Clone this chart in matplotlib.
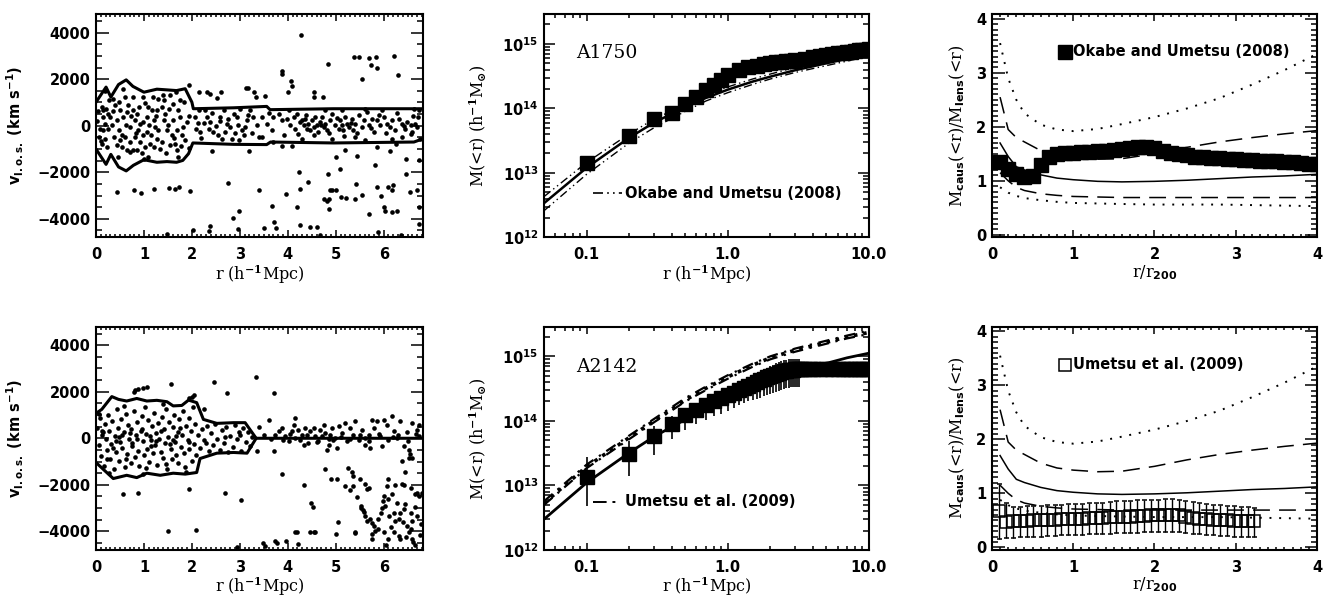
import matplotlib.pyplot as plt
import numpy as np
from matplotlib.ticker import MultipleLocator, FixedLocator, FixedFormatter, LogLocator, NullFormatter

# ---------------- A1750: redshift-space diagram (r [h^-1 Mpc], v_los [km/s])
a1750_members = [
    (0.19, 1510), (0.12, 800), (0.21, 730), (0.15, 660), (0.26, 510), (0.14, 370), (0.19, 90), (0.08, -130),
    (0.15, -200), (0.26, -130), (0.07, -490), (0.19, -560), (0.12, -770), (0.33, 10), (0.28, 1110), (0.36, 1160),
    (0.47, 1010), (0.57, 1590), (0.51, 660), (0.57, 370), (0.64, 590), (0.43, 230), (0.49, -200), (0.54, -410),
    (0.61, -490), (0.64, -1060), (0.70, -1130), (0.71, -700), (0.43, -840), (0.50, -630), (0.63, 10), (0.67, 870),
    (0.77, 1230), (0.78, 660), (0.85, 510), (0.90, 800), (0.81, 230), (0.92, 90), (0.99, 160), (0.88, -200),
    (0.81, -490), (0.92, -700), (0.85, -1060), (0.78, -1060), (1.02, -910), (1.09, 800), (1.16, 660), (1.06, 370),
    (1.11, 10), (1.20, 230), (1.23, -60), (1.06, -270), (1.14, -410), (1.27, -560), (1.20, -910), (1.09, -1340),
    (1.30, 1160), (1.18, 1230), (0.99, 1230), (1.37, 800), (1.44, 510), (1.41, 230), (1.51, 10), (1.48, -200),
    (1.58, -410), (1.37, -700), (1.54, -840), (1.65, -770), (1.68, -1060), (1.72, -1340), (1.61, 940), (1.70, 660),
    (1.75, 370), (1.60, 230), (1.68, -200), (1.79, -410), (1.82, -60), (1.89, 160), (1.86, -630), (1.54, 1300),
    (1.67, 1440), (1.75, 1090), (1.42, 1090), (1.27, 660), (1.30, -200), (0.97, -410), (0.71, -60), (0.29, 370),
    (0.38, -490), (0.05, 620), (0.10, -640), (0.22, -920), (0.35, 640), (0.40, 880), (0.55, -900), (0.60, 1250),
    (0.73, 420), (0.83, -320), (0.95, -1150), (1.03, 980), (1.13, -780), (1.25, 410), (1.33, -1020), (1.46, -1150),
    (1.52, 720), (1.62, -520), (1.77, -880), (1.84, 1020), (1.93, -950), (1.95, 420), (0.03, 200), (0.45, -1350),
    (1.00, -1450), (1.40, 1320),
    (2.07, 370), (2.14, 660), (2.09, -130), (2.17, -270), (2.28, 660), (2.31, 370), (2.38, 160), (2.35, -130),
    (2.45, -270), (2.55, -410), (2.59, 370), (2.66, 660), (2.73, 90), (2.80, -60), (2.87, 510), (2.94, 370),
    (2.97, 10), (3.04, -200), (3.15, 230), (3.22, 660), (3.28, 370), (3.35, 10), (3.39, -490), (2.62, -560),
    (2.83, -560), (3.08, -410), (2.20, -520), (2.25, 120), (2.42, 540), (2.50, -30), (2.69, -250), (2.76, 280),
    (2.90, -320), (3.00, 720), (3.11, -60), (3.18, 480), (3.25, -300), (2.12, 100), (2.58, 200), (2.98, -620),
    (3.46, 370), (3.56, 90), (3.46, -490), (3.70, 370), (3.67, -200), (3.81, 510), (3.88, 230), (3.98, 300),
    (4.05, 10), (4.12, 370), (4.16, -130), (4.22, -340), (4.29, 230), (4.33, 10), (4.36, 300), (4.40, -130),
    (4.43, 90), (4.47, -200), (4.50, 230), (4.54, -60), (4.57, 370), (4.61, 10), (4.64, -270), (4.68, 160),
    (4.71, 370), (4.75, -60), (4.78, 90), (4.82, -200), (4.89, 230), (4.92, 510), (4.99, 10), (5.06, -130),
    (5.09, 230), (5.13, 10), (5.16, -200), (5.20, 370), (5.23, 90), (5.27, -60), (5.34, 300), (5.37, -200),
    (5.41, 90), (5.48, 440), (5.55, -60), (5.58, 230), (5.65, 590), (5.69, 10), (5.76, 300), (5.79, -270),
    (5.86, 230), (5.93, 10), (6.00, 370), (6.07, 90), (6.14, -60), (6.17, 230), (6.24, -200), (6.31, 300),
    (6.38, 90), (6.45, -130), (6.49, 160), (6.56, 10), (6.59, -270), (6.66, 90), (6.70, -60), (6.73, 660),
    (6.72, 370), (6.76, -560), (4.02, 660), (4.78, 660), (5.13, 660), (5.62, 730), (5.97, 660), (6.63, 730),
    (3.70, -700), (4.29, -560), (4.92, -560), (5.62, -630), (5.41, -490), (6.17, -560), (6.38, -490), (6.56, -340),
    (4.26, 180), (4.38, 450), (4.55, -400), (4.70, 40), (4.86, -330), (5.02, 320), (5.18, -420), (5.31, 120),
    (5.45, -330), (5.74, -110), (5.90, 480), (6.05, -300), (6.28, 560), (6.42, -20), (6.62, 410), (3.60, 560),
    (3.92, -380), (4.19, 520),
]
a1750_outliers = [
    (4.28, 3910), (3.88, 2370), (3.88, 2230), (4.07, 1940), (4.09, 1710), (4.00, 1440), (4.84, 2660), (5.39, 2970),
    (5.49, 2970), (5.54, 2000), (5.70, 2890), (5.83, 2940), (5.74, 2630), (5.87, 2460), (6.22, 3000), (6.30, 2170),
    (4.54, 1460), (4.55, 1230), (4.73, 1230), (3.34, 1230), (3.12, 1630), (3.17, 1600), (3.29, 1460), (1.93, 1770),
    (2.15, 1430), (2.32, 1460), (2.37, 1370), (2.53, 1170), (2.61, 1430), (3.52, 1280),
    (0.44, -2830), (0.80, -2770), (0.93, -2890), (1.21, -2730), (1.53, -2690), (1.64, -2730), (1.74, -2640),
    (1.96, -2790), (2.76, -2460), (2.85, -3970), (2.98, -3660), (2.37, -4300), (2.36, -4510), (2.02, -4490),
    (2.96, -4430), (1.48, -4670), (3.39, -2770), (3.68, -3460), (3.72, -4140), (3.76, -4390), (3.51, -4400),
    (3.19, -1090), (2.42, -1070), (3.88, -890), (4.08, -890), (3.97, -2930), (4.20, -3510), (4.26, -2730),
    (4.23, -2000), (4.26, -4270), (4.46, -4360), (4.61, -4340), (4.43, -2410), (4.68, -4710), (5.00, -1340),
    (5.19, -1060), (5.44, -1300), (4.83, -2060), (5.08, -1870), (4.76, -3130), (4.81, -3230), (4.85, -3130),
    (4.85, -3570), (4.88, -2770), (4.93, -2760), (5.00, -2740), (5.11, -3040), (5.22, -3100), (5.40, -3140),
    (5.42, -2490), (5.55, -2990), (5.70, -3770), (5.82, -1700), (5.87, -2630), (5.94, -3010), (6.00, -3470),
    (6.03, -3670), (6.09, -2630), (6.19, -2540), (6.18, -2740), (6.18, -3710), (6.28, -3660), (5.89, -4570),
    (5.87, -910), (6.14, -1090), (6.25, -800), (6.46, -1440), (6.47, -2090), (6.55, -2840), (6.69, -2770),
    (6.74, -3470), (6.73, -4230), (6.73, -1490), (6.36, -4700),
]
a1750_caus_r_up = [0.0, 0.21, 0.31, 0.47, 0.63, 0.77, 1.0, 1.27, 1.48, 1.68, 1.86, 2.0, 2.03, 2.87, 3.56, 3.63, 4.95, 6.82]
a1750_caus_v_up = [1010, 1660, 1230, 1770, 1970, 1690, 1440, 1570, 1540, 1510, 1590, 1010, 730, 770, 830, 690, 730, 730]
a1750_caus_r_lo = [0.0, 0.21, 0.31, 0.47, 0.63, 0.78, 1.0, 1.27, 1.48, 1.68, 1.81, 1.93, 2.02, 2.87, 3.56, 3.64, 4.95, 6.63, 6.82]
a1750_caus_v_lo = [-1000, -1660, -1230, -1770, -1940, -1700, -1460, -1570, -1540, -1570, -1490, -1200, -740, -800, -810, -700, -740, -700, -560]

# ---------------- A2142: redshift-space diagram
a2142_members = [
    (0.03, 420), (0.06, -310), (0.09, 880), (0.11, -760), (0.13, 150), (0.16, -1180), (0.18, 610), (0.21, -40),
    (0.23, -520), (0.25, 1020), (0.27, 310), (0.30, -890), (0.32, -230), (0.34, 740), (0.37, -1320), (0.39, 90),
    (0.41, -610), (0.44, 1240), (0.46, 450), (0.48, -980), (0.51, -150), (0.53, 830), (0.55, -420), (0.58, 260),
    (0.60, -1250), (0.62, 1040), (0.65, -690), (0.67, 560), (0.69, -30), (0.72, -1080), (0.74, 380), (0.76, -340),
    (0.79, 1180), (0.81, -820), (0.83, 120), (0.86, 690), (0.88, -560), (0.90, -1200), (0.93, 320), (0.95, 960),
    (0.97, -120), (1.00, -720), (1.02, 1350), (1.04, 200), (1.07, -460), (1.09, 780), (1.11, -1020), (1.14, -80),
    (1.16, 510), (1.18, -640), (1.21, 1090), (1.23, -310), (1.25, 240), (1.28, -1150), (1.30, 650), (1.32, -20),
    (1.35, -580), (1.37, 920), (1.39, -860), (1.42, 380), (1.44, -210), (1.46, 1260), (1.49, -1300), (1.51, 60),
    (1.53, 700), (1.56, -480), (1.58, -900), (1.60, 470), (1.63, 1010), (1.65, -140), (1.67, -700), (1.70, 260),
    (1.72, -1080), (1.74, 840), (1.77, -380), (1.79, 130), (1.81, 1180), (1.84, -620), (1.86, -1240), (1.88, 540),
    (1.91, -60), (1.93, 880), (1.95, -450), (1.98, 320), (2.00, -960), (2.02, 1350), (2.05, -250), (2.07, 610),
    (2.09, -700), (2.12, 150), (2.16, -420), (2.21, 380), (2.26, -90), (2.31, 520), (2.35, -560), (2.40, 210),
    (2.44, -300), (2.49, 600), (2.53, -20), (2.58, -520), (2.62, 340), (2.67, -210), (2.71, 480), (2.76, -600),
    (2.80, 100), (2.85, -380), (2.89, 560), (2.94, -40), (2.98, 280), (3.03, -540), (3.07, 430), (3.12, -160),
    (3.16, 250), (3.21, -330), (3.25, 60), (0.15, 250), (0.35, -420), (0.55, 150), (0.75, -200), (0.95, 400),
    (1.15, -350), (1.35, 300), (1.55, -250), (1.75, 450), (1.95, -150), (0.42, -100), (0.85, -50), (1.26, -100),
    (1.66, 80), (0.22, -880), (0.63, -880), (1.05, -1280), (1.47, -1100), (0.07, 1050), (0.28, -1500),
    (0.58, 1400), (0.98, -1520), (1.40, 1480), (1.87, -1450), (0.12, 330), (0.47, 70), (0.70, 240), (1.12, 90),
    (1.60, -60), (2.30, -200), (2.70, 40), (3.00, 120),
    (3.60, 800), (3.74, 160), (3.81, 300), (3.88, 440), (3.95, 90), (4.09, 300), (4.12, 590), (4.16, 870),
    (4.22, 370), (4.29, 160), (4.36, 440), (4.43, -200), (4.47, 300), (4.54, 440), (4.57, 90), (4.64, -130),
    (4.68, 370), (4.75, 590), (4.78, 230), (4.85, -270), (4.89, 160), (4.92, 440), (4.99, 10), (5.03, -410),
    (5.06, 510), (5.13, 230), (5.20, 660), (5.23, -130), (5.30, 440), (5.37, 160), (5.41, 730), (5.48, -60),
    (5.55, 370), (5.62, -270), (5.69, 160), (5.76, 800), (5.79, 440), (5.86, 730), (5.93, 90), (6.00, 800),
    (6.07, 590), (6.17, 940), (6.21, 300), (6.28, 10), (6.35, 730), (6.42, -340), (6.59, 660), (6.70, 370),
    (6.73, 590), (6.73, 90), (3.72, -560), (3.35, -560), (4.02, -130), (4.33, -270), (4.82, -490), (5.72, -410),
    (5.96, -340), (6.52, -490), (6.38, -990), (6.59, -840), (3.50, 150), (3.90, -80), (4.05, 200), (4.25, -60),
    (4.40, 120), (4.60, -150), (4.72, 80), (4.95, -90), (5.10, 60), (5.30, -40), (5.50, 140), (5.70, -120),
    (5.90, 180), (6.10, -60), (6.30, 130), (6.50, -100), (6.68, 200), (4.15, 30), (4.85, -10), (5.60, 20),
    (6.20, 40), (3.65, -30), (3.40, 480), (6.48, 280),
]
a2142_outliers = [
    (0.81, 2070), (0.80, 1990), (0.88, 2100), (0.99, 2170), (1.06, 2200), (1.57, 2310), (1.93, 1740), (2.00, 1770),
    (2.05, 1860), (2.26, 1240), (2.46, 2430), (2.73, 1960), (3.34, 2630), (3.72, 1930),
    (0.57, -2400), (0.87, -2370), (1.95, -2190), (2.69, -2370), (3.03, -2660), (1.50, -4000), (2.08, -3960),
    (3.88, -1540), (4.34, -2000), (4.48, -2790), (4.52, -2970), (4.19, -4010), (4.47, -4010), (4.54, -4010),
    (3.74, -4400), (3.97, -4430), (4.21, -4540), (3.53, -4610), (2.94, -4690), (4.78, -1330), (4.91, -1730),
    (5.02, -1760), (5.05, -3590), (5.00, -4110), (5.25, -1260), (5.34, -1470), (5.37, -1610), (5.20, -2040),
    (5.29, -2230), (5.37, -2040), (5.44, -2540), (5.41, -4020), (5.50, -1760), (5.52, -2900), (5.56, -3070),
    (5.62, -1970), (5.65, -2160), (5.69, -2140), (5.72, -3470), (5.75, -3620), (5.79, -3760), (5.81, -3970),
    (5.75, -4330), (5.89, -3900), (5.88, -3470), (6.00, -2470), (5.99, -2690), (6.03, -2900), (6.09, -2610),
    (6.10, -1760), (6.07, -2040), (6.38, -1970), (6.45, -1470), (6.54, -690), (6.00, -4040), (6.10, -4330),
    (6.21, -4040), (6.31, -4190), (6.35, -4330), (6.12, -3330), (6.21, -3190), (6.24, -3540), (6.31, -3470),
    (6.35, -3190), (6.42, -3040), (6.49, -3760), (6.52, -4040), (6.56, -3900), (6.59, -4330), (6.62, -4470),
    (6.45, -2830), (6.56, -3190), (6.66, -2970), (6.69, -3330), (6.69, -2330), (6.73, -2470), (6.05, -4600),
    (6.66, -4600), (6.77, -3700), (6.79, -2360), (6.28, -2800), (5.95, -3200), (3.49, -4490), (3.77, -4490),
    (4.16, -4015), (4.57, -4015), (5.41, -4060), (5.53, -2990), (5.58, -3160), (5.62, -3340), (5.65, -3560),
    (5.76, -4130), (5.96, -2990), (6.17, -2410), (6.24, -1990), (6.42, -1990), (6.56, -2130), (6.66, -2410),
    (6.52, -840), (6.40, -3600), (6.47, -4250), (6.60, -3550), (6.75, -4150), (6.15, -3800),
]
a2142_caus_r_up = [0.0, 0.12, 0.33, 0.47, 0.64, 0.85, 1.06, 1.27, 1.48, 1.61, 1.79, 1.93, 2.10, 2.24, 2.52, 2.87, 3.11, 3.34, 6.82]
a2142_caus_v_up = [1070, 1240, 1790, 1670, 1600, 1710, 1600, 1630, 1570, 1390, 1410, 1640, 1530, 810, 640, 670, 670, 0, 0]
a2142_caus_r_lo = [0.0, 0.15, 0.36, 0.64, 0.85, 1.06, 1.34, 1.61, 1.86, 2.10, 2.17, 2.52, 2.87, 3.15, 3.34]
a2142_caus_v_lo = [-1040, -1330, -1730, -1590, -1690, -1500, -1590, -1500, -1540, -1470, -870, -640, -610, -640, 0]

# ---------------- mass profiles M(<r) [h^-1 Msun]
prof_r = [0.05, 0.1, 0.2, 0.3, 0.5, 0.7, 1.0, 1.5, 2.0, 3.0, 5.0, 7.0, 10.0]
a1750_lens_hi = [4.3e12, 1.45e13, 4.0e13, 6.8e13, 1.15e14, 1.6e14, 2.15e14, 2.85e14, 3.4e14, 4.3e14, 5.5e14, 6.4e14, 7.6e14]
a1750_lens_mid = [3.4e12, 1.2e13, 3.5e13, 6.0e13, 1.05e14, 1.45e14, 1.95e14, 2.6e14, 3.1e14, 3.9e14, 5.0e14, 5.9e14, 7.0e14]
a1750_lens_lo = [2.6e12, 9.5e12, 2.9e13, 5.0e13, 9.0e13, 1.3e14, 1.75e14, 2.35e14, 2.85e14, 3.6e14, 4.6e14, 5.4e14, 6.5e14]
a1750_caus_prof_r = [0.1, 0.2, 0.3, 0.4, 0.5, 0.6, 0.7, 0.8, 0.9, 1.0, 1.2, 1.4, 1.6, 1.8, 2.0, 2.2, 2.4, 2.6,
                     2.8, 3.0, 3.5, 4.0, 4.5, 5.0, 5.5, 6.0, 6.5, 7.0, 7.5, 8.0, 8.5, 9.0, 9.5, 10.0]
a1750_caus_prof_m = [1.4e13, 3.7e13, 6.8e13, 8.6e13, 1.15e14, 1.5e14, 1.95e14, 2.3e14, 2.8e14, 3.3e14, 3.9e14,
                     4.3e14, 4.6e14, 4.8e14, 5.0e14, 5.15e14, 5.3e14, 5.4e14, 5.5e14, 5.6e14, 5.9e14, 6.2e14,
                     6.5e14, 6.7e14, 6.9e14, 7.1e14, 7.25e14, 7.4e14, 7.6e14, 7.75e14, 7.9e14, 8.0e14, 8.1e14, 8.2e14]

a2142_lens_solid = [3.0e12, 1.1e13, 3.2e13, 5.7e13, 1.05e14, 1.5e14, 2.3e14, 3.3e14, 4.2e14, 5.6e14, 7.8e14, 9.5e14, 1.12e15]
a2142_lens_dot = [5.3e12, 1.95e13, 5.5e13, 1.0e14, 2.1e14, 3.2e14, 4.8e14, 7.3e14, 9.5e14, 1.25e15, 1.65e15, 2.0e15, 2.35e15]
a2142_lens_dash_hi = [5.7e12, 2.1e13, 5.9e13, 1.07e14, 2.25e14, 3.4e14, 5.1e14, 7.7e14, 1.0e15, 1.32e15, 1.75e15, 2.1e15, 2.5e15]
a2142_lens_dash_lo = [5.0e12, 1.85e13, 5.2e13, 9.5e13, 2.0e14, 3.0e14, 4.5e14, 6.9e14, 9.0e14, 1.18e15, 1.57e15, 1.9e15, 2.22e15]
a2142_caus_prof_r = [0.1, 0.2, 0.3, 0.4, 0.5, 0.6, 0.7, 0.8, 0.9, 1.0, 1.1, 1.2, 1.3, 1.4, 1.5, 1.6,
                     1.7, 1.8, 1.9, 2.0, 2.1, 2.2, 2.3, 2.4, 2.5, 2.6, 2.7, 2.8, 2.9, 3.0, 3.1, 3.2]
a2142_caus_prof_m = [1.35e13, 3.1e13, 5.9e13, 9.1e13, 1.25e14, 1.5e14, 1.75e14, 2.0e14, 2.25e14, 2.5e14, 2.75e14,
                     3.0e14, 3.25e14, 3.5e14, 3.75e14, 4.0e14, 4.25e14, 4.5e14, 4.75e14, 5.0e14, 5.2e14, 5.4e14,
                     5.6e14, 5.75e14, 5.9e14, 6.0e14, 6.1e14, 6.2e14, 6.25e14, 6.3e14, 6.3e14, 6.3e14]
a2142_caus_prof_lo = [4.8e12, 1.4e13, 3.0e13, 5.2e13, 7.3e13, 9.0e13, 1.05e14, 1.2e14, 1.3e14, 1.45e14, 1.6e14,
                      1.75e14, 1.9e14, 2.0e14, 2.1e14, 2.2e14, 2.3e14, 2.4e14, 2.5e14, 2.6e14, 2.7e14, 2.8e14,
                      2.9e14, 3.0e14, 3.1e14, 3.2e14, 3.25e14, 3.3e14, 3.35e14, 3.4e14, 3.4e14, 3.4e14]
a2142_caus_prof_hi = [2.8e13, 4.8e13, 8.4e13, 1.2e14, 1.5e14, 1.8e14, 2.1e14, 2.4e14, 2.7e14, 3.0e14, 3.4e14,
                      3.8e14, 4.2e14, 4.6e14, 5.0e14, 5.4e14, 5.8e14, 6.2e14, 6.6e14, 7.0e14, 7.4e14, 7.8e14,
                      8.1e14, 8.4e14, 8.7e14, 8.9e14, 9.0e14, 9.1e14, 9.2e14, 9.2e14, 9.2e14, 9.2e14]
a2142_flat_r = [3.3, 3.5, 3.8, 4.0, 4.5, 5.0, 5.5, 6.0, 6.5, 7.0, 7.5, 8.0, 8.5, 9.0, 9.5, 10.0]
a2142_flat_m = [6.3e14, 6.3e14, 6.3e14, 6.3e14, 6.3e14, 6.3e14, 6.3e14, 6.3e14, 6.3e14, 6.3e14, 6.3e14,
                6.3e14, 6.3e14, 6.3e14, 6.3e14, 6.3e14]

# ---------------- M_caus / M_lens from simulations (percentiles) vs r/r200
ratio_x = [0.1, 0.2, 0.3, 0.4, 0.6, 0.8, 1.0, 1.3, 1.6, 2.0, 2.4, 2.8, 3.2, 3.6, 4.0]
ratio_dot_hi = [3.55, 2.90, 2.50, 2.25, 2.04, 1.95, 1.92, 1.96, 2.05, 2.18, 2.34, 2.53, 2.78, 3.05, 3.35]
ratio_dash_hi = [2.55, 1.95, 1.80, 1.72, 1.56, 1.47, 1.43, 1.40, 1.41, 1.50, 1.62, 1.72, 1.80, 1.87, 1.93]
ratio_median = [1.70, 1.45, 1.26, 1.20, 1.11, 1.05, 1.02, 0.99, 0.98, 0.99, 1.01, 1.04, 1.07, 1.09, 1.12]
ratio_dash_lo = [1.15, 1.00, 0.88, 0.82, 0.76, 0.73, 0.71, 0.70, 0.69, 0.69, 0.69, 0.69, 0.69, 0.69, 0.69]
ratio_dot_lo = [0.88, 0.78, 0.72, 0.68, 0.64, 0.61, 0.59, 0.58, 0.57, 0.56, 0.56, 0.56, 0.55, 0.54, 0.53]

okabe_x = [0.1, 0.2, 0.3, 0.4, 0.5, 0.6, 0.7, 0.8, 0.9, 1.0, 1.1, 1.2, 1.3, 1.4, 1.5, 1.6, 1.7, 1.8, 1.9, 2.0,
           2.1, 2.2, 2.3, 2.4, 2.5, 2.6, 2.7, 2.8, 2.9, 3.0, 3.1, 3.2, 3.3, 3.4, 3.5, 3.6, 3.7, 3.8, 3.9, 4.0]
okabe_ratio = [1.35, 1.22, 1.12, 1.07, 1.09, 1.30, 1.45, 1.49, 1.51, 1.52, 1.53, 1.54, 1.55, 1.56, 1.57, 1.59,
               1.61, 1.63, 1.63, 1.60, 1.56, 1.52, 1.49, 1.47, 1.45, 1.44, 1.43, 1.42, 1.41, 1.40, 1.39, 1.38,
               1.37, 1.37, 1.36, 1.35, 1.34, 1.33, 1.32, 1.31]

umetsu_x = [0.09, 0.17, 0.26, 0.34, 0.43, 0.51, 0.60, 0.68, 0.77, 0.85, 0.94, 1.02, 1.11, 1.19, 1.28, 1.36, 1.45,
            1.53, 1.62, 1.70, 1.79, 1.87, 1.96, 2.04, 2.13, 2.21, 2.30, 2.38, 2.47, 2.55, 2.64, 2.72, 2.81, 2.89,
            2.98, 3.06, 3.15, 3.23]
umetsu_ratio = [0.68, 0.47, 0.48, 0.49, 0.49, 0.50, 0.50, 0.51, 0.51, 0.52, 0.52, 0.53, 0.53, 0.54, 0.55, 0.55,
                0.56, 0.56, 0.57, 0.57, 0.58, 0.58, 0.59, 0.59, 0.60, 0.60, 0.59, 0.57, 0.55, 0.53, 0.52, 0.51,
                0.50, 0.50, 0.49, 0.49, 0.48, 0.48]
umetsu_hi = [1.18, 0.82, 0.75, 0.75, 0.76, 0.76, 0.77, 0.78, 0.78, 0.79, 0.80, 0.80, 0.81, 0.82, 0.83, 0.83, 0.84,
             0.85, 0.85, 0.86, 0.87, 0.87, 0.88, 0.88, 0.89, 0.89, 0.88, 0.86, 0.84, 0.82, 0.80, 0.79, 0.78, 0.77,
             0.76, 0.75, 0.74, 0.73]
umetsu_lo = [0.16, 0.17, 0.18, 0.19, 0.19, 0.20, 0.20, 0.21, 0.21, 0.22, 0.22, 0.23, 0.23, 0.24, 0.24, 0.25, 0.25,
             0.26, 0.26, 0.27, 0.27, 0.28, 0.28, 0.29, 0.29, 0.29, 0.28, 0.27, 0.25, 0.24, 0.23, 0.22, 0.21, 0.21,
             0.20, 0.20, 0.19, 0.19]

plt.rcParams['font.family'] = ['DejaVu Sans']
plt.rcParams['font.weight'] = 'bold'
plt.rcParams['mathtext.fontset'] = 'dejavusans'
plt.rcParams['mathtext.default'] = 'bf'
plt.rcParams['axes.linewidth'] = 1.5
plt.rcParams['xtick.labelsize'] = 10.5
plt.rcParams['ytick.labelsize'] = 10.5

SERIF = dict(family='DejaVu Serif', weight='normal', math_fontfamily='dejavuserif', fontsize=11.5)
DOT = (0, (1, 4))
LDASH = (0, (11, 6))


def idl_ticks(ax, xlen=(5, 2.5), ylen=(9, 4.5)):
    ax.tick_params(which='both', direction='in', top=True, right=True, width=1.1, colors='k')
    ax.tick_params(axis='x', which='major', length=xlen[0], pad=7)
    ax.tick_params(axis='x', which='minor', length=xlen[1])
    ax.tick_params(axis='y', which='major', length=ylen[0], pad=4)
    ax.tick_params(axis='y', which='minor', length=ylen[1])


def phase_panel(ax, members, outliers, ru, vu, rl, vl):
    pts = np.array(members + outliers)
    ax.scatter(pts[:, 0], pts[:, 1], s=11, color='k', linewidths=0, zorder=2)
    ax.plot(ru, vu, color='k', lw=2.2, zorder=3)
    ax.plot(rl, vl, color='k', lw=2.2, zorder=3)
    ax.set_xlim(0, 6.82)
    ax.set_ylim(-4800, 4800)
    ax.xaxis.set_major_locator(MultipleLocator(1))
    ax.xaxis.set_minor_locator(MultipleLocator(0.1))
    ax.yaxis.set_major_locator(FixedLocator([-4000, -2000, 0, 2000, 4000]))
    ax.yaxis.set_minor_locator(MultipleLocator(500))
    idl_ticks(ax)
    ax.set_xlabel(r'r (h$^{-1}$Mpc)', **SERIF)
    ax.xaxis.set_label_coords(0.5, -0.115)
    ax.set_ylabel(r'v$_{\mathbf{l.o.s.}}$ (km s$^{-1}$)', fontsize=10.5, weight='bold')
    ax.yaxis.set_label_coords(-0.215, 0.5)


def mass_axes(ax):
    ax.set_xscale('log')
    ax.set_yscale('log')
    ax.set_xlim(0.05, 10)
    ax.set_ylim(1e12, 2.9e15)
    ax.xaxis.set_major_locator(FixedLocator([0.1, 1.0, 10.0]))
    ax.xaxis.set_major_formatter(FixedFormatter(['0.1', '1.0', '10.0']))
    ax.xaxis.set_minor_locator(LogLocator(base=10, subs=np.arange(2, 10)))
    ax.xaxis.set_minor_formatter(NullFormatter())
    ax.yaxis.set_major_locator(FixedLocator([1e12, 1e13, 1e14, 1e15]))
    ax.yaxis.set_major_formatter(FixedFormatter([r'10$^{12}$', r'10$^{13}$', r'10$^{14}$', r'10$^{15}$']))
    ax.yaxis.set_minor_locator(LogLocator(base=10, subs=np.arange(2, 10)))
    ax.yaxis.set_minor_formatter(NullFormatter())
    idl_ticks(ax, xlen=(5, 2.8), ylen=(8, 4))
    ax.set_xlabel(r'r (h$^{-1}$Mpc)', **SERIF)
    ax.xaxis.set_label_coords(0.5, -0.115)
    ax.set_ylabel(r'M(<r) (h$^{-1}$M$_{\odot}$)', **SERIF)
    ax.yaxis.set_label_coords(-0.17, 0.5)


def ratio_axes(ax):
    ax.plot(ratio_x, ratio_dot_hi, color='k', lw=1.4, ls=DOT)
    ax.plot(ratio_x, ratio_dash_hi, color='k', lw=1.1, ls=LDASH)
    ax.plot(ratio_x, ratio_median, color='k', lw=1.1)
    ax.plot(ratio_x, ratio_dash_lo, color='k', lw=1.1, ls=LDASH)
    ax.plot(ratio_x, ratio_dot_lo, color='k', lw=1.4, ls=DOT)
    ax.set_xlim(0, 4)
    ax.set_ylim(-0.05, 4.09)
    ax.xaxis.set_major_locator(MultipleLocator(1))
    ax.xaxis.set_minor_locator(MultipleLocator(0.1))
    ax.yaxis.set_major_locator(MultipleLocator(1))
    ax.yaxis.set_minor_locator(MultipleLocator(0.1))
    idl_ticks(ax, xlen=(5, 2.5), ylen=(9, 4))
    ax.set_xlabel(r'r/r$_{\mathsf{200}}$', **SERIF)
    ax.xaxis.set_label_coords(0.5, -0.115)
    ax.set_ylabel(r'M$_{\mathsf{caus}}$(<r)/M$_{\mathsf{lens}}$(<r)', **SERIF)
    ax.yaxis.set_label_coords(-0.078, 0.5)


fig = plt.figure(figsize=(13.24, 6.0), dpi=100)
cols = [0.0725, 0.4109, 0.7492]
widths = [0.247, 0.2454, 0.2455]
rows = [0.6042, 0.0833]
h = 0.3725

# ---- top row: A1750
ax = fig.add_axes([cols[0], rows[0], widths[0], h])
phase_panel(ax, a1750_members, a1750_outliers, a1750_caus_r_up, a1750_caus_v_up, a1750_caus_r_lo, a1750_caus_v_lo)

ax = fig.add_axes([cols[1], rows[0], widths[1], h])
ax.plot(prof_r, a1750_lens_mid, color='k', lw=1.8)
ax.plot(prof_r, a1750_lens_hi, color='k', lw=1.0, ls=(0, (6, 2.5, 1, 2.5, 1, 2.5)))
ax.plot(prof_r, a1750_lens_lo, color='k', lw=1.0, ls=(0, (6, 2.5, 1, 2.5, 1, 2.5)))
ax.plot(a1750_caus_prof_r, a1750_caus_prof_m, 's', color='k', ms=10.5, zorder=3)
mass_axes(ax)
ax.text(0.10, 0.825, 'A1750', transform=ax.transAxes, fontsize=13.5, ha='left', va='center',
        family='DejaVu Serif', weight='normal')
ax.plot([0.151, 0.24], [0.198, 0.198], transform=ax.transAxes, color='k', lw=1.2,
        ls=(0, (6, 2.5, 1, 2.5, 1, 2.5)))
ax.text(0.25, 0.198, 'Okabe and Umetsu (2008)', transform=ax.transAxes, fontsize=10.5, va='center')

ax = fig.add_axes([cols[2], rows[0], widths[2], h])
ratio_axes(ax)
ax.plot(okabe_x, okabe_ratio, 's', color='k', ms=10.5, zorder=3, clip_on=True)
ax.plot([0.225], [0.83], 's', color='k', ms=10, transform=ax.transAxes)
ax.text(0.25, 0.83, 'Okabe and Umetsu (2008)', transform=ax.transAxes, fontsize=10.5, va='center')

# ---- bottom row: A2142
ax = fig.add_axes([cols[0], rows[1], widths[0], h])
phase_panel(ax, a2142_members, a2142_outliers, a2142_caus_r_up, a2142_caus_v_up, a2142_caus_r_lo, a2142_caus_v_lo)

ax = fig.add_axes([cols[1], rows[1], widths[1], h])
ax.plot(prof_r, a2142_lens_solid, color='k', lw=2.0)
ax.plot(prof_r, a2142_lens_dot, color='k', lw=2.6, ls=(0, (1, 1.6)))
ax.plot(prof_r, a2142_lens_dash_hi, color='k', lw=1.6, ls=(0, (5, 3, 1, 3)))
ax.plot(prof_r, a2142_lens_dash_lo, color='k', lw=1.6, ls=(0, (5, 3, 1, 3)))
m = np.array(a2142_caus_prof_m)
ax.errorbar(a2142_caus_prof_r, m, yerr=[m - np.array(a2142_caus_prof_lo), np.array(a2142_caus_prof_hi) - m],
            fmt='s', color='k', ms=10.5, elinewidth=1.2, capsize=0, zorder=3)
ax.plot(a2142_flat_r, a2142_flat_m, 's', color='k', ms=10.5, zorder=3)
mass_axes(ax)
ax.text(0.10, 0.82, 'A2142', transform=ax.transAxes, fontsize=13.5, ha='left', va='center',
        family='DejaVu Serif', weight='normal')
ax.plot([0.152, 0.232], [0.215, 0.215], transform=ax.transAxes, color='k', lw=1.4, ls=(0, (7, 3, 1.5, 3)))
ax.text(0.25, 0.215, 'Umetsu et al. (2009)', transform=ax.transAxes, fontsize=10.5, va='center')

ax = fig.add_axes([cols[2], rows[1], widths[2], h])
ratio_axes(ax)
u = np.array(umetsu_ratio)
ax.errorbar(umetsu_x, u, yerr=[u - np.array(umetsu_lo), np.array(umetsu_hi) - u], fmt='s', mfc='none',
            mec='k', ms=8.5, mew=1.1, ecolor='k', elinewidth=1.0, capsize=1.8, capthick=1.0, zorder=3)
ax.plot([0.225], [0.828], 's', mfc='none', mec='k', ms=9, mew=1.1, transform=ax.transAxes)
ax.text(0.25, 0.828, 'Umetsu et al. (2009)', transform=ax.transAxes, fontsize=10.5, va='center')

fig.savefig('out.png', dpi=100)
